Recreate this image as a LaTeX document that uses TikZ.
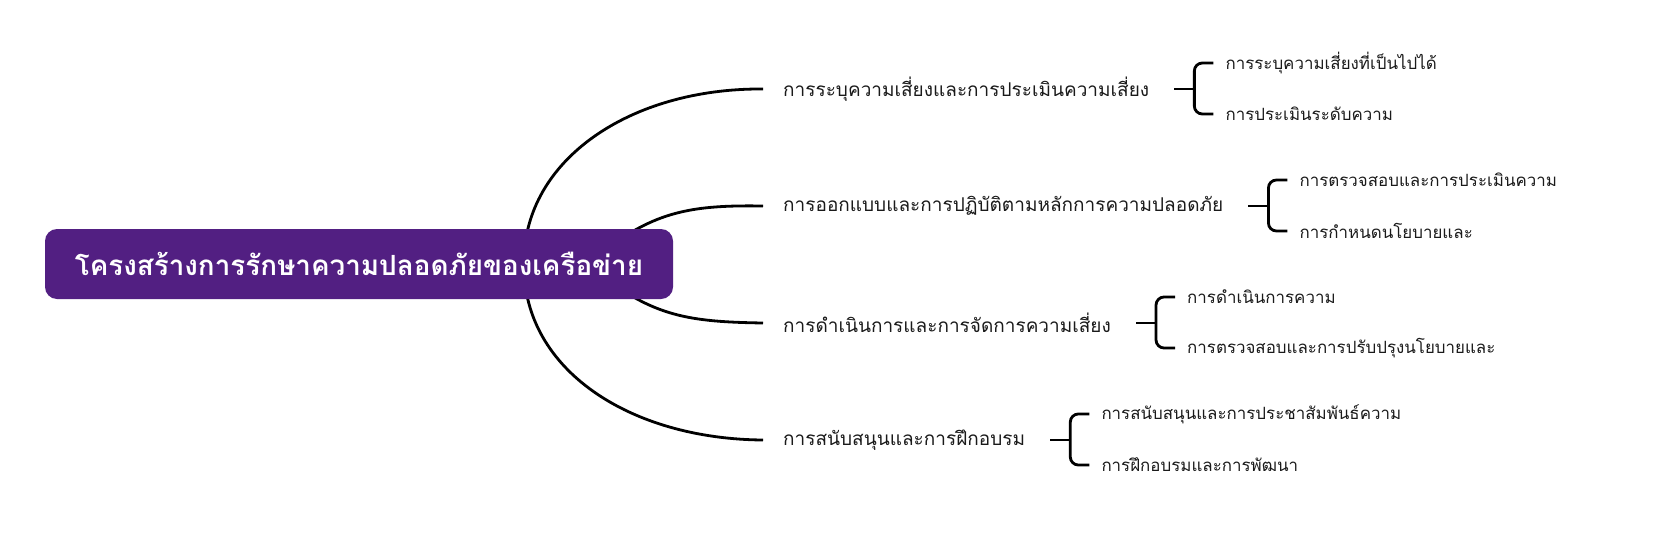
\documentclass[tikz,border=0pt]{standalone}
\usepackage{fontspec}
\newfontfamily\thaifont[Script=Thai]{Loma}
\usetikzlibrary{calc}
\definecolor{rootpurple}{HTML}{521F82}
\definecolor{ink}{HTML}{1A1A1A}
\tikzset{
  rootbox/.style={fill=rootpurple, draw=none, rounded corners=12pt, minimum width=628pt, minimum height=70pt, inner sep=0pt, text=white, font=\thaifont\bfseries\fontsize{27.8}{34}\selectfont},
  branchlabel/.style={anchor=west, inner sep=0pt, text=ink, font=\thaifont\fontsize{19}{23}\selectfont},
  leaflabel/.style={anchor=west, inner sep=0pt, text=ink, font=\thaifont\fontsize{16.9}{20}\selectfont},
  link/.style={draw=black, line width=2.8pt},
  brk/.style={draw=black, line width=2.8pt, rounded corners=8pt}
}
\begin{document}
\begin{tikzpicture}[x=1pt,y=-1pt]
\useasboundingbox (0,0) rectangle (1654,543);
% branches
\node[branchlabel] (b1) at (783,89) {การระบุความเสี่ยงและการประเมินความเสี่ยง};
\node[branchlabel] (b2) at (783,206) {การออกแบบและการปฏิบัติตามหลักการความปลอดภัย};
\node[branchlabel] (b3) at (783,323) {การดำเนินการและการจัดการความเสี่ยง};
\node[branchlabel] (b4) at (783,440) {การสนับสนุนและการฝึกอบรม};
% curve anchors
\coordinate (e1) at ([xshift=-20pt]b1.west);
\coordinate (e2) at ([xshift=-20pt]b2.west);
\coordinate (e3) at ([xshift=-20pt]b3.west);
\coordinate (e4) at ([xshift=-20pt]b4.west);
\coordinate (s1) at (524,262);
\coordinate (s2) at (622,238);
\coordinate (s3) at (622,290);
\coordinate (s4) at (524,266);
\draw[link] (s1) .. controls (524,160) and (630,88) .. (e1);
\draw[link] (s2) .. controls (665,210) and (700,205) .. (e2);
\draw[link] (s3) .. controls (665,318) and (700,322) .. (e3);
\draw[link] (s4) .. controls (524,370) and (630,439) .. (e4);
% root
\node[rootbox] (r) at (359,264) {โครงสร้างการรักษาความปลอดภัยของเครือข่าย};
% sub brackets
\foreach \b/\ca/\cb in {b1/การระบุความเสี่ยงที่เป็นไปได้/การประเมินระดับความ,
                        b2/การตรวจสอบและการประเมินความ/การกำหนดนโยบายและ,
                        b3/การดำเนินการความ/การตรวจสอบและการปรับปรุงนโยบายและ,
                        b4/การสนับสนุนและการประชาสัมพันธ์ความ/การฝึกอบรมและการพัฒนา}{
  \coordinate (\b k) at ([xshift=25pt]\b.east);
  \coordinate (\b j) at ([xshift=20pt]\b k);
  \node[leaflabel] (\b a) at ($(\b j)+(31,-26)$) {\ca};
  \node[leaflabel] (\b b) at ($(\b j)+(31,25)$) {\cb};
  \draw[link] (\b k) -- (\b j);
  \draw[brk] ([xshift=-12pt]\b a.west) -| (\b j) |- ([xshift=-12pt]\b b.west);
}
\end{tikzpicture}
\end{document}
